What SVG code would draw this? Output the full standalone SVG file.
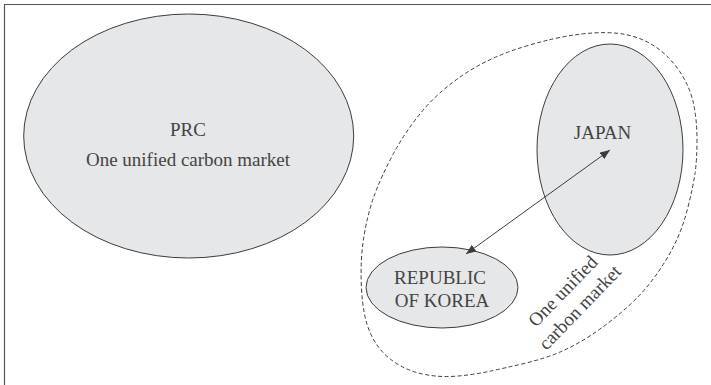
<svg xmlns="http://www.w3.org/2000/svg" width="711" height="385" viewBox="0 0 711 385">
<defs>
<style>
.node{fill:#e6e7e8;stroke:#3c3c3c;stroke-width:1}
.lbl{font-family:"Liberation Serif","Times New Roman",serif;font-size:19px;fill:#444;text-anchor:middle}
.conn{stroke:#3c3c3c;stroke-width:1;fill:none}
</style>
<marker id="ah" viewBox="0 0 10 8" refX="10" refY="4" markerWidth="10" markerHeight="8" markerUnits="userSpaceOnUse" orient="auto-start-reverse">
<path d="M0,0 L10,4 L0,8 Z" fill="#3c3c3c"/>
</marker>
</defs>
<rect width="711" height="385" fill="#fff"/>
<path d="M4.5,385 V4.5 H711" fill="none" stroke="#555" stroke-width="1.2"/>
<g id="group-japan-korea">
<path fill="none" stroke="#3c3c3c" stroke-width="1" stroke-dasharray="4 2.5" d="M581.5,34 Q608,31 625.5,34.5 Q643,38 656.5,47.5 Q670,57 680,72 Q690,87 693.5,103.5 Q697,120 697,140 Q697,160 695,173.5 Q693,187 688,207 Q683,227 675,243.5 Q667,260 655,276.5 Q643,293 628,306.5 Q613,320 596.5,331.5 Q580,343 563.5,350.5 Q547,358 526,363 Q505,368 488.5,371.5 Q472,375 455,376.25 Q438,377.5 421.5,373.75 Q405,370 391.5,360 Q378,350 370.5,333.5 Q363,317 361.5,288.5 Q360,260 364,236 Q368,212 375,193.5 Q382,175 393.5,153.5 Q405,132 421.5,112 Q438,92 463,75 Q488,58 521.5,47.5 Q555,37 581.5,34 Z"/>
<g transform="translate(571 299) rotate(-46)">
<text class="lbl" x="0" y="-5">One unified</text>
<text class="lbl" x="0" y="18.5">carbon market</text>
</g>
</g>
<g id="prc">
<ellipse class="node" cx="188.7" cy="136" rx="165" ry="122"/>
<text class="lbl" x="188" y="135.5">PRC</text>
<text class="lbl" x="188" y="165.5">One unified carbon market</text>
</g>
<g id="japan">
<ellipse class="node" cx="610" cy="149.5" rx="73" ry="105.5"/>
<text class="lbl" x="602.5" y="139.3">JAPAN</text>
</g>
<g id="korea">
<ellipse class="node" cx="442" cy="287.5" rx="76" ry="40.5"/>
<text class="lbl" x="440" y="284">REPUBLIC</text>
<text class="lbl" x="442" y="307">OF KOREA</text>
</g>
<g id="connectors">
<line class="conn" x1="466" y1="254" x2="610" y2="150" marker-start="url(#ah)" marker-end="url(#ah)"/>
</g>
</svg>
